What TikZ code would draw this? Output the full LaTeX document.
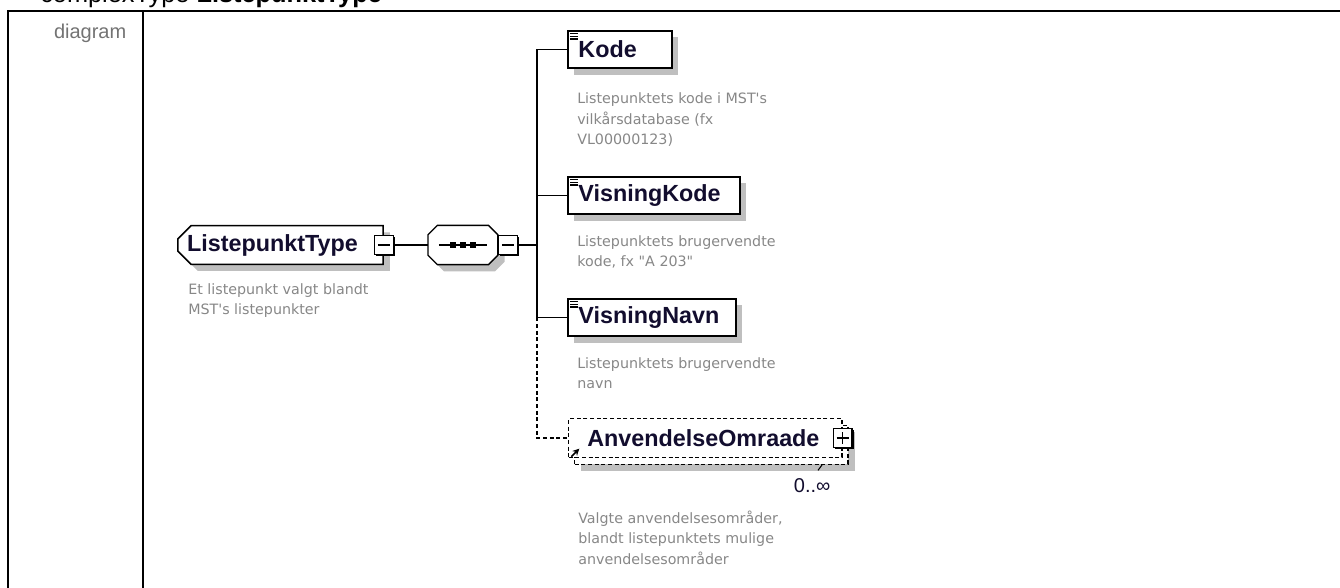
\documentclass[tikz,border=0pt]{standalone}
\usepackage{fontspec}
\setmainfont{Liberation Sans}
\newfontfamily\notefont{DejaVu Sans}
\usetikzlibrary{arrows.meta, positioning, shapes.misc, shadows}
\definecolor{NoteGray}{rgb}{0.53,0.53,0.53}
\definecolor{NameInk}{rgb}{0.07,0.05,0.18}
\definecolor{ShadeGray}{rgb}{0.75,0.75,0.75}
\definecolor{LabelGray}{rgb}{0.45,0.45,0.45}

% the small "content" mark in the corner of an element box
\newcommand\leaficon[1]{%
  \foreach \k in {0,1,2}
    \draw[line width=0.9pt] ([xshift=2.5pt, yshift={-2.8pt-2*\k pt}]#1.north west) -- ++(6pt,0pt);}

\begin{document}
\begin{tikzpicture}[x=0.75pt, y=-0.75pt,
    tagname/.style={font=\bfseries\fontsize{17.5}{20}\selectfont, text=NameInk},
    descr/.style={font=\notefont\fontsize{10.7}{15.5}\selectfont, text=NoteGray,
        align=left, inner sep=0pt},
    grayshadow/.style={drop shadow={shadow xshift=5pt, shadow yshift=-5pt,
        fill=ShadeGray, opacity=1}},
    elem/.style={tagname, draw, line width=1.2pt, fill=white, grayshadow,
        anchor=north west, align=left, inner xsep=8pt, inner ysep=0pt,
        minimum height=28pt},
    ctype/.style={tagname, draw, line width=1.2pt, fill=white, grayshadow,
        chamfered rectangle, chamfered rectangle corners={north west, south west},
        chamfered rectangle sep=5pt, anchor=west, align=left,
        inner xsep=2pt, inner ysep=0pt, minimum height=29pt},
    seqbox/.style={minimum width=52pt, minimum height=29pt, inner sep=0pt,
        anchor=west},
    optbox/.style={draw, line width=1pt, dash pattern=on 3pt off 2pt, fill=white,
        anchor=north west, minimum width=205pt, minimum height=29pt},
    toggle/.style={draw, line width=1pt, fill=white, minimum size=14pt,
        inner sep=0pt, drop shadow={shadow xshift=1.2pt, shadow yshift=-1.2pt,
        fill=black, opacity=1}},
    collapse/.style={toggle, path picture={
        \draw[line width=0.8pt] ([xshift=2.5pt]path picture bounding box.west)
            -- ([xshift=-2.5pt]path picture bounding box.east);}},
    expand/.style={toggle, path picture={
        \draw[line width=0.8pt] ([xshift=2.5pt]path picture bounding box.west)
            -- ([xshift=-2.5pt]path picture bounding box.east);
        \draw[line width=0.8pt] ([yshift=-2.5pt]path picture bounding box.north)
            -- ([yshift=2.5pt]path picture bounding box.south);}},
    link/.style={line width=1pt},
    optlink/.style={line width=1pt, dash pattern=on 3pt off 2pt},
]
\useasboundingbox (0,0) rectangle (1340,588);
\clip (0,0) rectangle (1340,588);

% table frame
\node[anchor=base west, inner sep=0pt, font=\fontsize{19}{22}\selectfont]
    (title) at (40,3) {complexType \textbf{ListepunktType}};
\draw[line width=2pt] (8,590) -- (8,11) -- (1345,11);
\draw[line width=2pt] (143,11) -- (143,590);
\node[anchor=east, text=LabelGray, font=\fontsize{15}{18}\selectfont]
    (diag) at (131,33) {diagram};

% complex type
\node[ctype, text width=140pt] (ctype) at (177,245) {ListepunktType};
\node[collapse] (ctypetg) at (ctype.east) {};
\node[descr, anchor=north west] (ctypenote) at (188,283)
    {Et listepunkt valgt blandt\\MST's listepunkter};

% sequence
\node[seqbox] (seq) at (428,245) {};
\draw[line width=1pt, fill=white, grayshadow]
    ([xshift=7pt]seq.north west) -- ([xshift=-7pt]seq.north east)
    -- ([yshift=-7pt]seq.north east) -- ([yshift=7pt]seq.south east)
    -- ([xshift=-7pt]seq.south east) -- ([xshift=7pt]seq.south west)
    -- ([yshift=7pt]seq.south west) -- ([yshift=-7pt]seq.north west) -- cycle;
\draw[line width=1pt] ([xshift=-18pt]seq.center) -- ([xshift=18pt]seq.center);
\foreach \dx in {-7.5pt,0pt,7.5pt}
  \fill ([xshift=\dx]seq.center) +(-2pt,-2pt) rectangle +(2pt,2pt);
\node[collapse, anchor=west] (seqtg) at (seq.east) {};
\draw[link] (ctypetg) -- (seq);

\coordinate (spine) at (537,245);
\draw[link] (seqtg) -- (spine);

% children
\node[elem, text width=62pt] (kode) at (567,30) {Kode};
\leaficon{kode}
\node[elem, text width=113pt] (vkode) at (567,176) {VisningKode};
\leaficon{vkode}
\node[elem, text width=110pt] (vnavn) at (567,298) {VisningNavn};
\leaficon{vnavn}

% optional, repeated
\node[optbox, grayshadow] (anvback) at (574,425) {};
\node[optbox, tagname, align=left, text width=177pt, inner xsep=14pt,
      inner ysep=0pt] (anv) at (568,418) {AnvendelseOmraade};
\node[expand] (anvtg) at (anv.east) {};
\draw[-{Stealth[length=5pt,width=5pt]}, line width=1.1pt]
    ([shift={(2.5pt,1pt)}]anv.south west) -- ++(6pt,6pt);
\draw[line width=0.8pt] ([xshift=-20pt]anvback.south east) -- ++(-3pt,-4pt);
\node[font=\fontsize{15}{18}\selectfont, text=NameInk, inner sep=0pt,
      below left=10pt and 13.5pt of anvback.south east] (occ) {0..∞};

% connectors
\draw[link] (kode.west) -- (kode.west -| spine) -- (vnavn.west -| spine) -- (vnavn.west);
\draw[link] (vkode.west) -- (vkode.west -| spine);
\draw[optlink] (vnavn.west -| spine) -- (anv.west -| spine) -- (anv.west);

% annotations
\node[descr, below right=17.5pt and 7.5pt of kode.south west] (kodenote)
    {Listepunktets kode i MST's\\vilkårsdatabase (fx\\VL00000123)};
\node[descr, below right=15pt and 7.5pt of vkode.south west] (vkodenote)
    {Listepunktets brugervendte\\kode, fx "A 203"};
\node[descr, below right=15pt and 7.5pt of vnavn.south west] (vnavnnote)
    {Listepunktets brugervendte\\navn};
\node[descr, below right=34pt and 3pt of anvback.south west] (anvnote)
    {Valgte anvendelsesområder,\\blandt listepunktets mulige\\anvendelsesområder};
\end{tikzpicture}
\end{document}
